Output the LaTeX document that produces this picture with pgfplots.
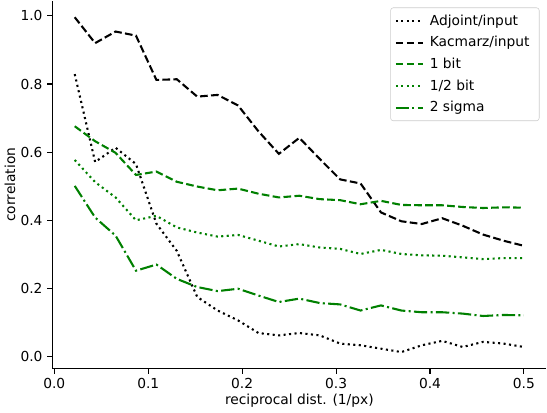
\documentclass[border=0pt]{standalone}
\usepackage{fontspec}
\setmainfont{DejaVu Sans}
\usepackage{pgfplots}
\pgfplotsset{compat=1.18}
\definecolor{mplgreen}{HTML}{008000}
\begin{document}
\begin{tikzpicture}
\begin{axis}[
  scale only axis,
  width=357bp, height=266bp,
  xmin=-0.0022, xmax=0.524,
  ymin=-0.036, ymax=1.045,
  axis x line*=bottom, axis y line*=left,
  axis line style={line width=0.8bp},
  xtick distance=0.1, ytick distance=0.2,
  tick align=outside, tick pos=left,
  major tick length=3.5bp,
  tick style={line width=0.8bp, black},
  /pgf/number format/assume math mode=true,
  /pgf/number format/.cd, fixed, fixed zerofill, precision=1, /pgfplots/.cd,
  tick label style={font=\fontsize{10}{12}\selectfont},
  label style={font=\fontsize{10}{12}\selectfont},
  xlabel={reciprocal dist. (1/px)},
  ylabel={correlation},
  xlabel style={yshift=3bp},
  ylabel style={yshift=-3bp},
  legend cell align=left,
  legend style={at={(1,1)}, anchor=north east, xshift=-5bp, yshift=-5bp,
    draw=black!20, rounded corners=2bp, font=\fontsize{10}{12}\selectfont,
    row sep=2.6bp, inner xsep=3bp, inner ysep=3bp,
    nodes={inner xsep=4bp}},
  legend image code/.code={\draw[#1] (0cm,0cm) -- (0.7cm,0cm);},
  every axis plot/.append style={line width=1.5bp},
]
\addplot[black, dash pattern=on 1.5bp off 2.475bp] coordinates {
(0.02174,0.829) (0.04348,0.571) (0.06522,0.613) (0.08696,0.565) (0.10870,0.390)
(0.13043,0.310) (0.15217,0.175) (0.17391,0.135) (0.19565,0.106) (0.21739,0.069)
(0.23913,0.062) (0.26087,0.069) (0.28261,0.062) (0.30435,0.038) (0.32609,0.033)
(0.34783,0.023) (0.36957,0.013) (0.39130,0.033) (0.41304,0.046) (0.43478,0.028)
(0.45652,0.043) (0.47826,0.038) (0.5,0.028)};
\addlegendentry{Adjoint/input}
\addplot[black, dash pattern=on 5.55bp off 2.4bp] coordinates {
(0.02174,0.996) (0.04348,0.920) (0.06522,0.954) (0.08696,0.942) (0.10870,0.812)
(0.13043,0.814) (0.15217,0.763) (0.17391,0.768) (0.19565,0.737) (0.21739,0.661)
(0.23913,0.595) (0.26087,0.642) (0.28261,0.580) (0.30435,0.520) (0.32609,0.508)
(0.34783,0.423) (0.36957,0.397) (0.39130,0.389) (0.41304,0.406) (0.43478,0.384)
(0.45652,0.358) (0.47826,0.340) (0.5,0.325)};
\addlegendentry{Kacmarz/input}
\addplot[mplgreen, dash pattern=on 5.55bp off 2.4bp] coordinates {
(0.02174,0.676) (0.04348,0.632) (0.06522,0.598) (0.08696,0.533) (0.10870,0.543)
(0.13043,0.513) (0.15217,0.499) (0.17391,0.488) (0.19565,0.493) (0.21739,0.478)
(0.23913,0.467) (0.26087,0.472) (0.28261,0.462) (0.30435,0.459) (0.32609,0.447)
(0.34783,0.457) (0.36957,0.445) (0.39130,0.444) (0.41304,0.444) (0.43478,0.439)
(0.45652,0.436) (0.47826,0.438) (0.5,0.437)};
\addlegendentry{1 bit}
\addplot[mplgreen, dash pattern=on 1.5bp off 2.475bp] coordinates {
(0.02174,0.577) (0.04348,0.512) (0.06522,0.467) (0.08696,0.400) (0.10870,0.413)
(0.13043,0.379) (0.15217,0.364) (0.17391,0.352) (0.19565,0.357) (0.21739,0.340)
(0.23913,0.323) (0.26087,0.330) (0.28261,0.320) (0.30435,0.316) (0.32609,0.301)
(0.34783,0.313) (0.36957,0.301) (0.39130,0.297) (0.41304,0.296) (0.43478,0.291)
(0.45652,0.286) (0.47826,0.289) (0.5,0.289)};
\addlegendentry{1/2 bit}
\addplot[mplgreen, dash pattern=on 9.6bp off 2.4bp on 1.5bp off 2.4bp] coordinates {
(0.02174,0.501) (0.04348,0.408) (0.06522,0.355) (0.08696,0.252) (0.10870,0.270)
(0.13043,0.228) (0.15217,0.204) (0.17391,0.192) (0.19565,0.199) (0.21739,0.179)
(0.23913,0.160) (0.26087,0.170) (0.28261,0.157) (0.30435,0.153) (0.32609,0.135)
(0.34783,0.150) (0.36957,0.135) (0.39130,0.130) (0.41304,0.130) (0.43478,0.126)
(0.45652,0.119) (0.47826,0.122) (0.5,0.121)};
\addlegendentry{2 sigma}
\end{axis}
\end{tikzpicture}
\end{document}
